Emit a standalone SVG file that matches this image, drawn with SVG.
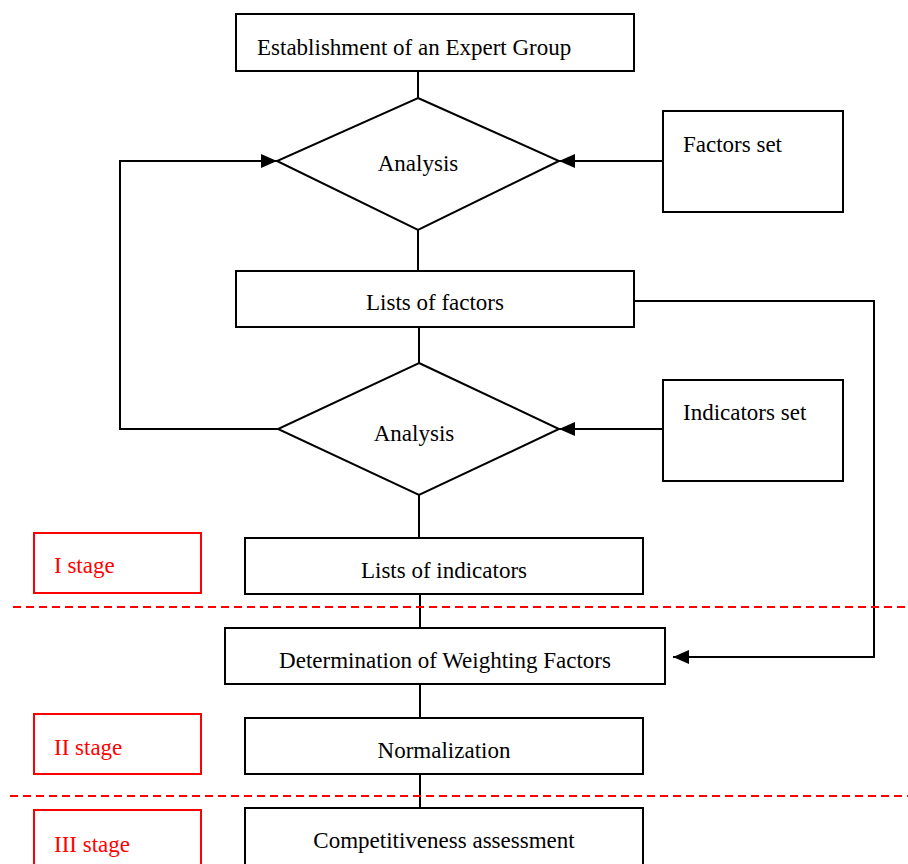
<svg xmlns="http://www.w3.org/2000/svg" width="908" height="864" viewBox="0 0 908 864">
<style>
.box{fill:#fff;stroke:#000;stroke-width:2}
.red{fill:#fff;stroke:#f00;stroke-width:2}
.t{font-family:"Liberation Serif","DejaVu Serif",serif;font-size:23px;fill:#000}
.rt{font-family:"Liberation Serif","DejaVu Serif",serif;font-size:23px;fill:#f00}
.c{fill:none;stroke:#000;stroke-width:2}
.d{fill:none;stroke:#f00;stroke-width:2;stroke-dasharray:8,5}
</style>
<defs>
<marker id="ah" viewBox="0 0 16 14" refX="16" refY="7" markerWidth="16" markerHeight="14" markerUnits="userSpaceOnUse" orient="auto">
<path d="M0,0 L16,7 L0,14 z" fill="#000"/>
</marker>
</defs>
<g id="connectors">
<line class="c" x1="418" y1="71" x2="418" y2="98"/>
<line class="c" x1="418" y1="230" x2="418" y2="271"/>
<line class="c" x1="419" y1="327" x2="419" y2="363"/>
<line class="c" x1="419" y1="495" x2="419" y2="538"/>
<line class="c" x1="420" y1="594" x2="420" y2="628"/>
<line class="c" x1="420" y1="684" x2="420" y2="718"/>
<line class="c" x1="420" y1="774" x2="420" y2="808"/>
<line class="c" x1="663" y1="161" x2="559" y2="161" marker-end="url(#ah)"/>
<line class="c" x1="663" y1="429" x2="559" y2="429" marker-end="url(#ah)"/>
<polyline class="c" points="278,429 120,429 120,161 277,161" marker-end="url(#ah)"/>
<polyline class="c" points="634,301 874,301 874,657 673,657" marker-end="url(#ah)"/>
</g>
<g id="dividers">
<line class="d" x1="13" y1="607" x2="908" y2="607"/>
<line class="d" x1="10" y1="796" x2="908" y2="796"/>
</g>
<g id="expert-group">
<rect class="box" x="236" y="14" width="398" height="57"/>
<text class="t" x="257" y="55">Establishment of an Expert Group</text>
</g>
<g id="analysis1">
<polygon class="box" points="418,98 559,161 418,230 277,161"/>
<text class="t" x="418" y="171" text-anchor="middle">Analysis</text>
</g>
<g id="factors-set">
<rect class="box" x="663" y="111" width="180" height="101"/>
<text class="t" x="683" y="152">Factors set</text>
</g>
<g id="lists-factors">
<rect class="box" x="236" y="271" width="398" height="56"/>
<text class="t" x="435" y="310" text-anchor="middle">Lists of factors</text>
</g>
<g id="analysis2">
<polygon class="box" points="419,363 559,429 419,495 278,429"/>
<text class="t" x="414" y="441" text-anchor="middle">Analysis</text>
</g>
<g id="indicators-set">
<rect class="box" x="663" y="380" width="180" height="101"/>
<text class="t" x="683" y="420">Indicators set</text>
</g>
<g id="lists-indicators">
<rect class="box" x="245" y="538" width="398" height="56"/>
<text class="t" x="444" y="578" text-anchor="middle">Lists of indicators</text>
</g>
<g id="weighting">
<rect class="box" x="225" y="628" width="440" height="56"/>
<text class="t" x="445" y="668" text-anchor="middle">Determination of Weighting Factors</text>
</g>
<g id="normalization">
<rect class="box" x="245" y="718" width="398" height="56"/>
<text class="t" x="444" y="758" text-anchor="middle">Normalization</text>
</g>
<g id="assessment">
<rect class="box" x="245" y="808" width="398" height="60"/>
<text class="t" x="444" y="848" text-anchor="middle">Competitiveness assessment</text>
</g>
<g id="stage1">
<rect class="red" x="34" y="533" width="167" height="60"/>
<text class="rt" x="54" y="573">I stage</text>
</g>
<g id="stage2">
<rect class="red" x="34" y="714" width="167" height="60"/>
<text class="rt" x="54" y="755">II stage</text>
</g>
<g id="stage3">
<rect class="red" x="34" y="810" width="167" height="60"/>
<text class="rt" x="54" y="852">III stage</text>
</g>
</svg>
